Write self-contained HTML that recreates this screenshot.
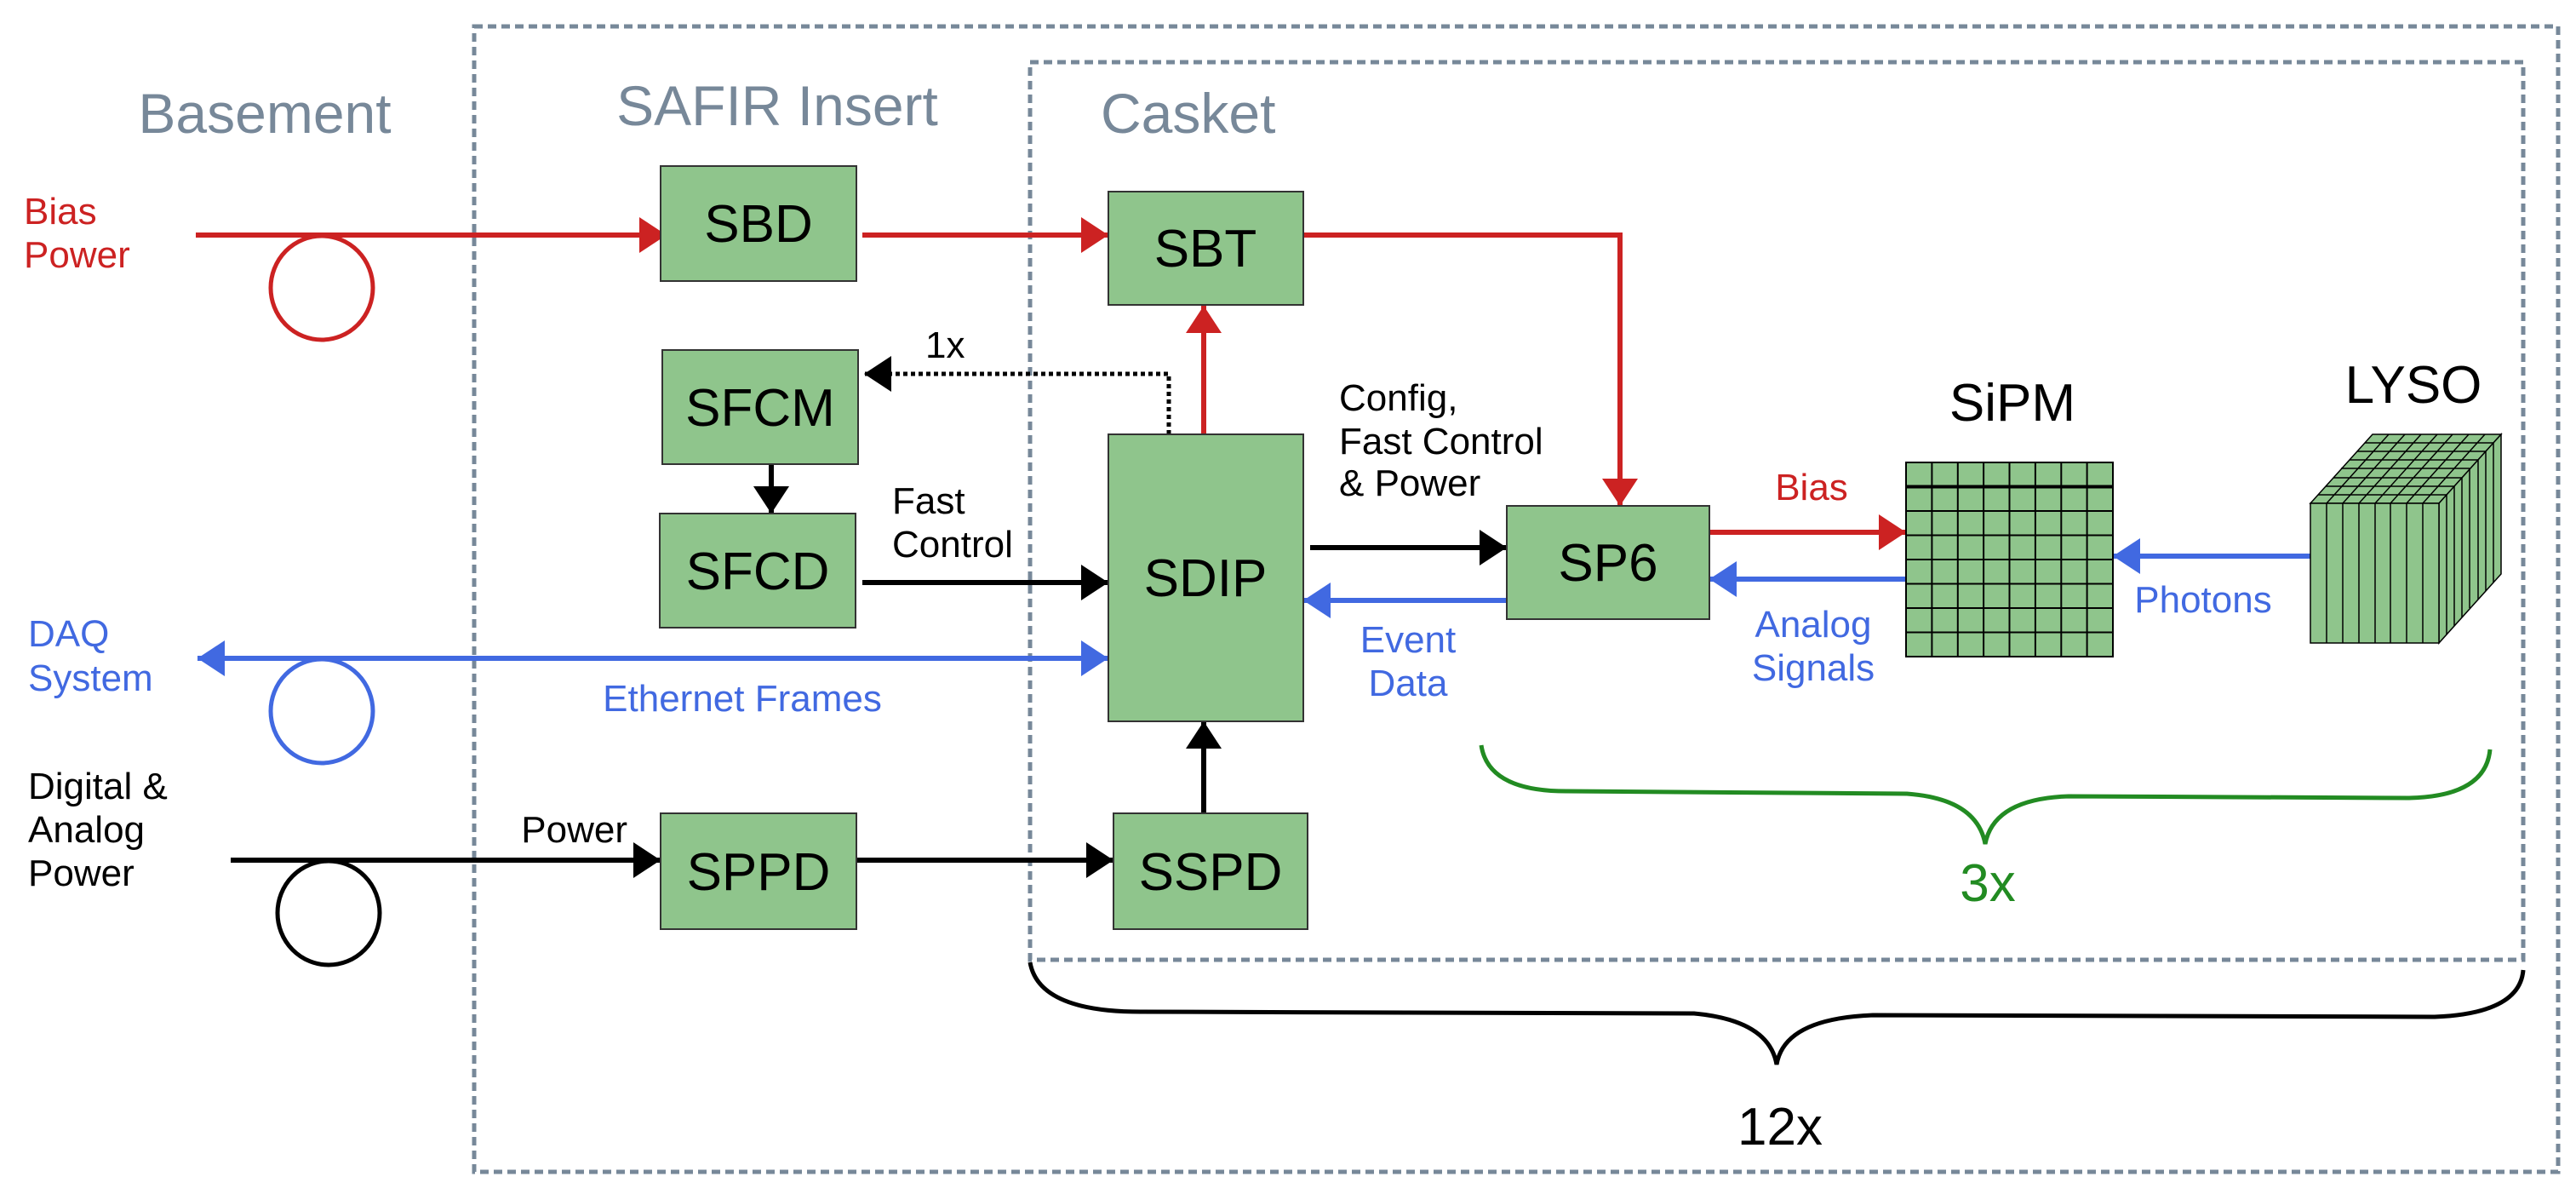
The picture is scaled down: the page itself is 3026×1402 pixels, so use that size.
<!DOCTYPE html>
<html><head><meta charset="utf-8"><style>
html,body{margin:0;padding:0;background:#fff;}
svg{display:block;}
text{font-family:"Liberation Sans",Arial,sans-serif;}
</style></head><body>
<svg width="3026" height="1402" viewBox="0 0 3026 1402" xmlns="http://www.w3.org/2000/svg">
<defs>
<marker id="ar" markerUnits="userSpaceOnUse" markerWidth="34" markerHeight="42" refX="32" refY="21" orient="auto"><path d="M0,0 L32,21 L0,42 z" fill="#cc2222"/></marker>
<marker id="ab" markerUnits="userSpaceOnUse" markerWidth="34" markerHeight="42" refX="32" refY="21" orient="auto"><path d="M0,0 L32,21 L0,42 z" fill="#4169e1"/></marker>
<marker id="abs" markerUnits="userSpaceOnUse" markerWidth="34" markerHeight="42" refX="0" refY="21" orient="auto"><path d="M32,0 L0,21 L32,42 z" fill="#4169e1"/></marker>
<marker id="ak" markerUnits="userSpaceOnUse" markerWidth="34" markerHeight="42" refX="32" refY="21" orient="auto"><path d="M0,0 L32,21 L0,42 z" fill="#000"/></marker>
</defs>

<!-- dashed boxes -->
<rect x="557" y="31" width="2448" height="1345" fill="none" stroke="#778899" stroke-width="5" stroke-dasharray="10 6"/>
<rect x="1210" y="73" width="1754" height="1054" fill="none" stroke="#778899" stroke-width="5" stroke-dasharray="10 6"/>

<!-- titles -->
<g fill="#778899" font-size="66">
<text x="311" y="156" text-anchor="middle">Basement</text>
<text x="913" y="147" text-anchor="middle">SAFIR Insert</text>
<text x="1293" y="156">Casket</text>
</g>

<!-- left labels -->
<g font-size="44">
<text x="28" y="263" fill="#cc2222">Bias</text>
<text x="28" y="314" fill="#cc2222">Power</text>
<text x="33" y="759" fill="#4169e1">DAQ</text>
<text x="33" y="811" fill="#4169e1">System</text>
<text x="33" y="938">Digital &amp;</text>
<text x="33" y="989">Analog</text>
<text x="33" y="1040">Power</text>
<text x="737" y="989" text-anchor="end">Power</text>
<text x="872" y="835" text-anchor="middle" fill="#4169e1">Ethernet Frames</text>
<text x="1087" y="420">1x</text>
<text x="1048" y="603">Fast</text>
<text x="1048" y="654">Control</text>
<text x="1573" y="482">Config,</text>
<text x="1573" y="533">Fast Control</text>
<text x="1573" y="582">&amp; Power</text>
<text x="1654" y="766" text-anchor="middle" fill="#4169e1">Event</text>
<text x="1654" y="817" text-anchor="middle" fill="#4169e1">Data</text>
<text x="2128" y="587" text-anchor="middle" fill="#cc2222">Bias</text>
<text x="2130" y="748" text-anchor="middle" fill="#4169e1">Analog</text>
<text x="2130" y="799" text-anchor="middle" fill="#4169e1">Signals</text>
<text x="2588" y="719" text-anchor="middle" fill="#4169e1">Photons</text>
</g>

<!-- coils -->
<ellipse cx="378" cy="338" rx="60" ry="61" fill="none" stroke="#cc2222" stroke-width="5"/>
<ellipse cx="378" cy="835" rx="60" ry="61" fill="none" stroke="#4169e1" stroke-width="5"/>
<ellipse cx="386" cy="1072" rx="60" ry="61" fill="none" stroke="#000" stroke-width="5"/>

<!-- connectors -->
<g fill="none" stroke-width="6">
<line x1="230" y1="276" x2="783" y2="276" stroke="#cc2222" marker-end="url(#ar)"/>
<line x1="1013" y1="276" x2="1302" y2="276" stroke="#cc2222" marker-end="url(#ar)"/>
<polyline points="1531,276 1903,276 1903,594" stroke="#cc2222" marker-end="url(#ar)"/>
<line x1="1414" y1="510" x2="1414" y2="359" stroke="#cc2222" marker-end="url(#ar)"/>
<polyline points="1373,510 1373,439 1015,439" stroke="#000" stroke-width="5" stroke-dasharray="5 4" marker-end="url(#ak)"/>
<line x1="906" y1="545" x2="906" y2="603" stroke="#000" marker-end="url(#ak)"/>
<line x1="1013" y1="684" x2="1302" y2="684" stroke="#000" marker-end="url(#ak)"/>
<line x1="232" y1="773" x2="1302" y2="773" stroke="#4169e1" marker-start="url(#abs)" marker-end="url(#ab)"/>
<line x1="271" y1="1010" x2="776" y2="1010" stroke="#000" marker-end="url(#ak)"/>
<line x1="1006" y1="1010" x2="1308" y2="1010" stroke="#000" marker-end="url(#ak)"/>
<line x1="1414" y1="955" x2="1414" y2="847" stroke="#000" marker-end="url(#ak)"/>
<line x1="1539" y1="643" x2="1770" y2="643" stroke="#000" marker-end="url(#ak)"/>
<line x1="1770" y1="705" x2="1531" y2="705" stroke="#4169e1" marker-end="url(#ab)"/>
<line x1="2008" y1="625" x2="2239" y2="625" stroke="#cc2222" marker-end="url(#ar)"/>
<line x1="2239" y1="680" x2="2008" y2="680" stroke="#4169e1" marker-end="url(#ab)"/>
<line x1="2714" y1="653" x2="2482" y2="653" stroke="#4169e1" marker-end="url(#ab)"/>
</g>

<!-- boxes -->
<g fill="#8fc58c" stroke="#333" stroke-width="2">
<rect x="776" y="195" width="230" height="135"/>
<rect x="1302" y="225" width="229" height="133"/>
<rect x="778" y="411" width="230" height="134"/>
<rect x="775" y="603" width="230" height="134"/>
<rect x="1302" y="510" width="229" height="337"/>
<rect x="776" y="955" width="230" height="136"/>
<rect x="1308" y="955" width="228" height="136"/>
<rect x="1770" y="594" width="238" height="133"/>
</g>
<g font-size="62" text-anchor="middle">
<text x="891" y="284">SBD</text>
<text x="1416" y="313">SBT</text>
<text x="893" y="500">SFCM</text>
<text x="890" y="692">SFCD</text>
<text x="1416" y="700">SDIP</text>
<text x="891" y="1045">SPPD</text>
<text x="1422" y="1045">SSPD</text>
<text x="1889" y="682">SP6</text>
<text x="2364" y="494">SiPM</text>
<text x="2835" y="473">LYSO</text>
</g>

<!-- SiPM grid -->
<rect x="2239" y="543" width="243" height="228" fill="#8fc58c" stroke="#000" stroke-width="2"/>
<g stroke="#000" stroke-width="2">
<line x1="2269.4" y1="543" x2="2269.4" y2="771"/><line x1="2299.8" y1="543" x2="2299.8" y2="771"/>
<line x1="2330.1" y1="543" x2="2330.1" y2="771"/><line x1="2360.5" y1="543" x2="2360.5" y2="771"/>
<line x1="2390.9" y1="543" x2="2390.9" y2="771"/><line x1="2421.3" y1="543" x2="2421.3" y2="771"/>
<line x1="2451.6" y1="543" x2="2451.6" y2="771"/>
<line x1="2239" y1="571.5" x2="2482" y2="571.5" stroke-width="4"/>
<line x1="2239" y1="600" x2="2482" y2="600"/><line x1="2239" y1="628.5" x2="2482" y2="628.5"/>
<line x1="2239" y1="657" x2="2482" y2="657"/><line x1="2239" y1="685.5" x2="2482" y2="685.5"/>
<line x1="2239" y1="714" x2="2482" y2="714"/><line x1="2239" y1="742.5" x2="2482" y2="742.5"/>
</g>

<!-- LYSO cube -->
<g stroke="#000" stroke-width="1.5" fill="#8fc58c">
<polygon points="2714,591 2865,591 2938,510 2787,510"/>
<polygon points="2865,591 2938,510 2938,674 2865,755"/>
<rect x="2714" y="591" width="151" height="164"/>
</g>
<g stroke="#000" stroke-width="1.5">
<line x1="2733" y1="591" x2="2733" y2="755"/><line x1="2752" y1="591" x2="2752" y2="755"/>
<line x1="2771" y1="591" x2="2771" y2="755"/><line x1="2790" y1="591" x2="2790" y2="755"/>
<line x1="2808" y1="591" x2="2808" y2="755"/><line x1="2827" y1="591" x2="2827" y2="755"/>
<line x1="2846" y1="591" x2="2846" y2="755"/>
<line x1="2733" y1="591" x2="2806" y2="510"/><line x1="2752" y1="591" x2="2825" y2="510"/>
<line x1="2771" y1="591" x2="2844" y2="510"/><line x1="2790" y1="591" x2="2863" y2="510"/>
<line x1="2808" y1="591" x2="2881" y2="510"/><line x1="2827" y1="591" x2="2900" y2="510"/>
<line x1="2846" y1="591" x2="2919" y2="510"/>
<line x1="2723" y1="581" x2="2874" y2="581"/><line x1="2732" y1="571" x2="2883" y2="571"/>
<line x1="2741" y1="561" x2="2892" y2="561"/><line x1="2750" y1="550" x2="2901" y2="550"/>
<line x1="2760" y1="540" x2="2911" y2="540"/><line x1="2769" y1="530" x2="2920" y2="530"/>
<line x1="2778" y1="520" x2="2929" y2="520"/>
<line x1="2874" y1="581" x2="2874" y2="745"/><line x1="2883" y1="571" x2="2883" y2="735"/>
<line x1="2892" y1="561" x2="2892" y2="725"/><line x1="2901" y1="550" x2="2901" y2="714"/>
<line x1="2911" y1="540" x2="2911" y2="704"/><line x1="2920" y1="530" x2="2920" y2="694"/>
<line x1="2929" y1="520" x2="2929" y2="684"/>
</g>

<!-- braces -->
<path d="M1740,875 Q1748,929 1840,929 L2240,932 Q2322,938 2332,991 Q2342,938 2430,935 L2830,937 Q2920,935 2925,880" fill="none" stroke="#228b22" stroke-width="5"/>
<text x="2335" y="1058" text-anchor="middle" font-size="62" fill="#228b22">3x</text>
<path d="M1210,1130 Q1220,1188 1340,1188 L1990,1190 Q2078,1198 2087,1250 Q2096,1196 2200,1192 L2860,1194 Q2960,1190 2964,1139" fill="none" stroke="#000" stroke-width="5"/>
<text x="2091" y="1344" text-anchor="middle" font-size="62">12x</text>
</svg>
</body></html>
